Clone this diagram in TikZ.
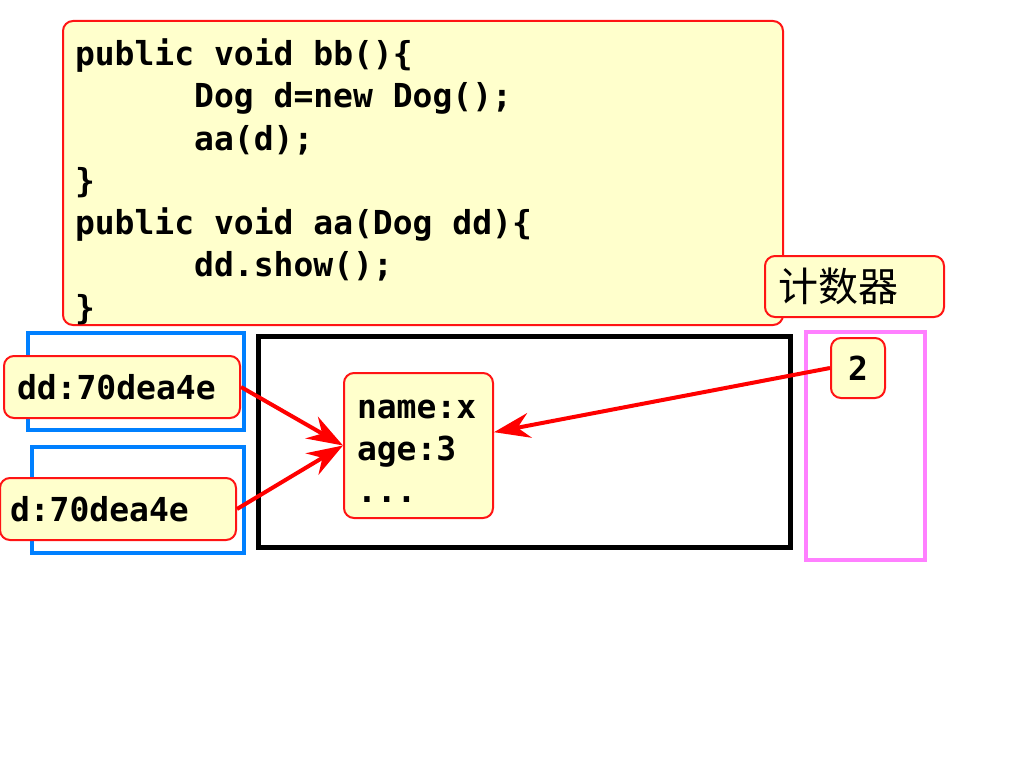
\documentclass[tikz,border=0pt]{standalone}
\usepackage{fontspec}
\setmonofont{DejaVu Sans Mono}
\newfontfamily\cjk{Noto Sans CJK SC}
\usetikzlibrary{arrows.meta}
\definecolor{memo}{RGB}{255,255,204}
\definecolor{edgered}{RGB}{255,20,20}
\definecolor{stackblue}{RGB}{0,128,255}
\definecolor{poolpink}{RGB}{255,128,255}
\newcommand\ind{\phantom{xxxxxx}}
\newcommand\ws{\hspace{0.602em}}

\begin{document}
\begin{tikzpicture}[x=1pt,y=-1pt,
	note/.style={draw=edgered, fill=memo, line width=2pt, rounded corners=10pt, inner ysep=0pt, align=left,
		font=\ttfamily\bfseries\fontsize{33}{42.3}\selectfont},
	ptr/.style={draw=red, line width=4pt, -{Stealth[length=36pt,width=25pt,inset=12pt]}}]
	\useasboundingbox (0,0) rectangle (1024,768);
	\node[note, minimum width=720, minimum height=304, inner xsep=12pt, text width=696] (code) at (423,173)
	{\rule{0pt}{44pt}public\ws void\ws bb()\{\\
		\ind Dog\ws d=new\ws Dog();\\
		\ind aa(d);\\
		\}\\
		public\ws void\ws aa(Dog\ws dd)\{\\
		\ind dd.show();\\
		\}};
	\node[note, minimum width=179, minimum height=61, inner xsep=13pt, text width=153,
		font=\cjk\fontsize{40}{44}\selectfont] (cnt) at (854.5,286.5) {计数器};
	% stack, heap, counter
	\draw[line width=5pt] (258,336) rectangle (790,547);
	\draw[stackblue, line width=4pt] (28,333) rectangle (244,430);
	\draw[stackblue, line width=4pt] (32,447) rectangle (244,553);
	\draw[poolpink, line width=4pt] (806,332) rectangle (925,560);
	\node[note, minimum width=236, minimum height=62, inner xsep=13pt, text width=210] (dd) at (122,387) {dd:70dea4e};
	\node[note, minimum width=236, minimum height=62, inner xsep=10pt, text width=216] (d) at (118,509) {d:70dea4e};
	\node[note, minimum width=149, minimum height=145, inner xsep=13pt, text width=123] (obj) at (418.5,445.5)
	{\rule{0pt}{30pt}name:x\\age:3\\...};
	\node[note, minimum width=54, minimum height=60, inner xsep=0pt] (two) at (858,368) {2};
	\draw[ptr] (dd.east) -- (obj.west);
	\draw[ptr] (d.east) -- (obj.west);
	\draw[ptr] (two.west) -- (obj.10);
\end{tikzpicture}
\end{document}
